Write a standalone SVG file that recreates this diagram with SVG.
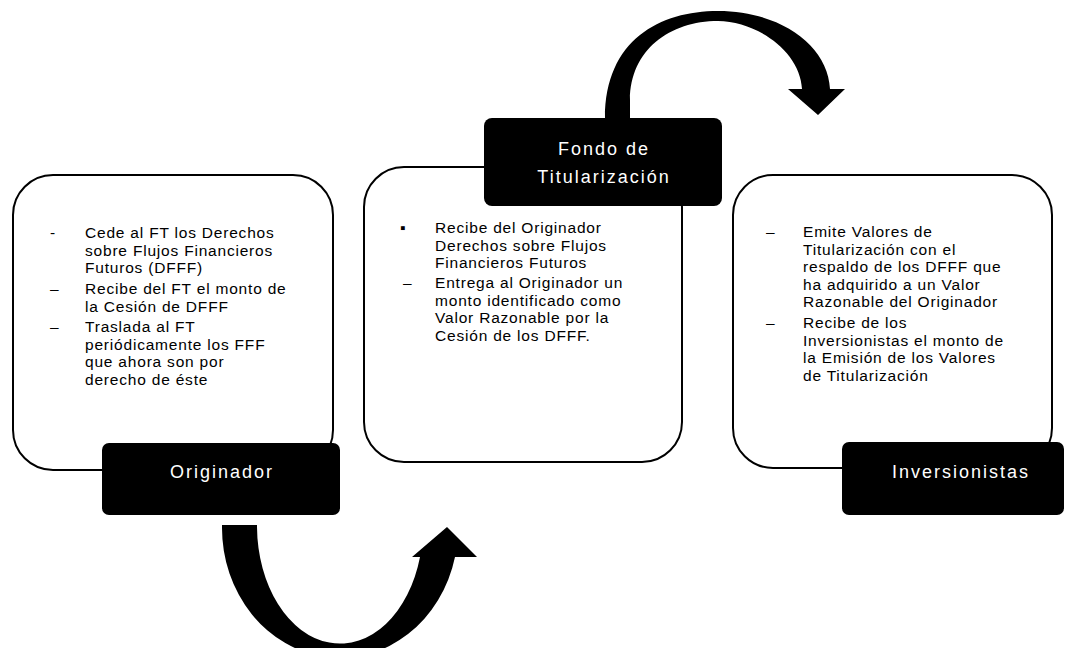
<svg xmlns="http://www.w3.org/2000/svg" width="1068" height="648" viewBox="0 0 1068 648">
<style>
.box{fill:#fff;stroke:#000;stroke-width:2}
.lbl{fill:#000}
.lt{font-family:"Liberation Sans",Arial,sans-serif;font-size:18px;fill:#fff;text-anchor:middle;letter-spacing:2px}
.bt{font-family:"Liberation Sans","DejaVu Sans",sans-serif;font-size:15.5px;fill:#000;letter-spacing:0.8px}
.arrow{fill:#000}
</style>
<rect width="1068" height="648" fill="#fff"/>
<g id="connectors">
  <path id="arrow-top" class="arrow" d="M605 122 L605 118 C605 40 660 11 718 11 C780 11 828 45 830 89 L845 89 L818 115 L788 89 L802 89 C800 50 755 21 718 21 C670 21 630 50 630 100 L630 122 Z"/>
  <path id="arrow-bottom" class="arrow" d="M222 525 L222 527 A118 130 0 0 0 455 557 L477 557 L447 527 L412 557 L420 557 A83 118 0 0 1 257 527 L257 525 Z"/>
</g>
<g id="node-originador">
  <rect class="box" x="13" y="175" width="320" height="295" rx="40" ry="40"/>
  <text class="bt" x="50" y="238">-</text>
  <text class="bt" x="50" y="294">–</text>
  <text class="bt" x="50" y="332">–</text>
  <text class="bt">
    <tspan x="85" y="238">Cede al FT los Derechos</tspan>
    <tspan x="85" y="255.5">sobre Flujos Financieros</tspan>
    <tspan x="85" y="273">Futuros (DFFF)</tspan>
    <tspan x="85" y="294">Recibe del FT el monto de</tspan>
    <tspan x="85" y="311.5">la Cesión de DFFF</tspan>
    <tspan x="85" y="332">Traslada al FT</tspan>
    <tspan x="85" y="349.5">periódicamente los FFF</tspan>
    <tspan x="85" y="367">que ahora son por</tspan>
    <tspan x="85" y="384.5">derecho de éste</tspan>
  </text>
  <rect class="lbl" x="102" y="443" width="238" height="72" rx="7" ry="7"/>
  <text class="lt" x="222" y="478">Originador</text>
</g>
<g id="node-fondo">
  <rect class="box" x="364" y="167" width="318" height="295" rx="40" ry="40"/>
  <text class="bt" x="400" y="233">▪</text>
  <text class="bt" x="403" y="288">–</text>
  <text class="bt">
    <tspan x="435" y="233">Recibe del Originador</tspan>
    <tspan x="435" y="250.5">Derechos sobre Flujos</tspan>
    <tspan x="435" y="268">Financieros Futuros</tspan>
    <tspan x="435" y="288">Entrega al Originador un</tspan>
    <tspan x="435" y="305.5">monto identificado como</tspan>
    <tspan x="435" y="323">Valor Razonable por la</tspan>
    <tspan x="435" y="340.5">Cesión de los DFFF.</tspan>
  </text>
  <rect class="lbl" x="484" y="118" width="238" height="88" rx="8" ry="8"/>
  <text class="lt" x="604" y="155">Fondo de</text>
  <text class="lt" x="604" y="183">Titularización</text>
</g>
<g id="node-inversionistas">
  <rect class="box" x="733" y="175" width="319" height="293" rx="40" ry="40"/>
  <text class="bt" x="766" y="237">–</text>
  <text class="bt" x="766" y="328">–</text>
  <text class="bt">
    <tspan x="803" y="237">Emite Valores de</tspan>
    <tspan x="803" y="254.5">Titularización con el</tspan>
    <tspan x="803" y="272">respaldo de los DFFF que</tspan>
    <tspan x="803" y="289.5">ha adquirido a un Valor</tspan>
    <tspan x="803" y="307">Razonable del Originador</tspan>
    <tspan x="803" y="328">Recibe de los</tspan>
    <tspan x="803" y="345.5">Inversionistas el monto de</tspan>
    <tspan x="803" y="363">la Emisión de los Valores</tspan>
    <tspan x="803" y="380.5">de Titularización</tspan>
  </text>
  <rect class="lbl" x="842" y="442" width="222" height="73" rx="7" ry="7"/>
  <text class="lt" x="961" y="478">Inversionistas</text>
</g>
</svg>
